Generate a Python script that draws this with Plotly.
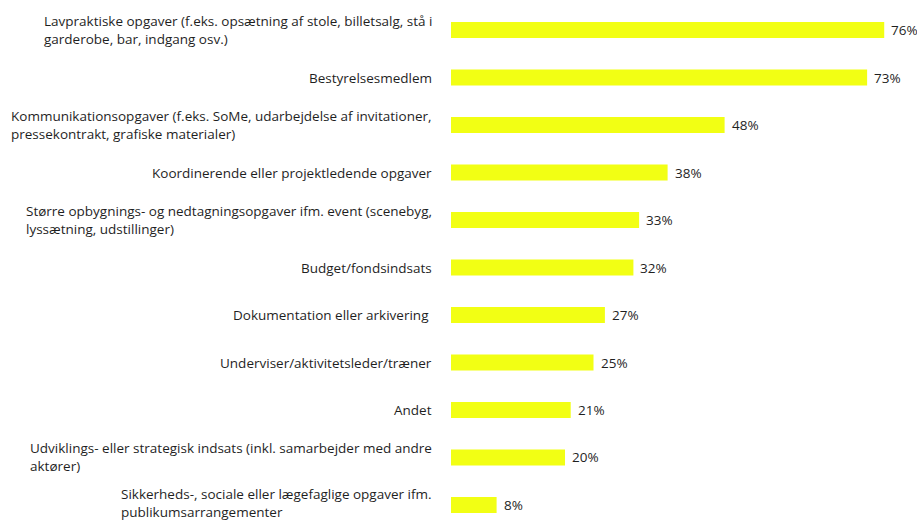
import plotly.graph_objects as go

# Task categories (top to bottom) and share of respondents in percent
categories = [
    "Lavpraktiske opgaver (f.eks. opsætning af stole, billetsalg, stå i<br>garderobe, bar, indgang osv.)",
    "Bestyrelsesmedlem",
    "Kommunikationsopgaver (f.eks. SoMe, udarbejdelse af invitationer,<br>pressekontrakt, grafiske materialer)",
    "Koordinerende eller projektledende opgaver",
    "Større opbygnings- og nedtagningsopgaver ifm. event (scenebyg,<br>lyssætning, udstillinger)",
    "Budget/fondsindsats",
    "Dokumentation eller arkivering ",
    "Underviser/aktivitetsleder/træner",
    "Andet",
    "Udviklings- eller strategisk indsats (inkl. samarbejder med andre<br>aktører)",
    "Sikkerheds-, sociale eller lægefaglige opgaver ifm.<br>publikumsarrangementer",
]
values = [76, 73, 48, 38, 33, 32, 27, 25, 21, 20, 8]
value_labels = [f"{v}%" for v in values]

FONT = "Open Sans"
TEXT_COLOR = "#1f1f1f"
BAR_COLOR = "#F2FF14"

positions = list(range(len(categories)))

fig = go.Figure(
    go.Bar(
        x=values,
        y=positions,
        orientation="h",
        marker=dict(color=BAR_COLOR, line=dict(width=0)),
        width=0.34,
        hoverinfo="skip",
    )
)

annotations = []
last = positions[-1]
for pos, cat, val, lab in zip(positions, categories, values, value_labels):
    # category label, left-aligned block placed to the left of the bars
    annotations.append(dict(
        x=0, xref="paper", y=pos, yref="y",
        text=cat, showarrow=False,
        xanchor="right", yanchor="middle", align="left",
        xshift=-17, yshift=2 if pos == last else 0,
        font=dict(family=FONT, size=13.5, color=TEXT_COLOR),
    ))
    # value label at the end of each bar
    annotations.append(dict(
        x=val, xref="x", y=pos, yref="y",
        text=lab, showarrow=False,
        xanchor="left", yanchor="middle",
        xshift=5,
        font=dict(family=FONT, size=13.5, color=TEXT_COLOR),
    ))

fig.update_layout(
    width=917, height=520,
    margin=dict(l=451, r=0, t=0, b=0),
    paper_bgcolor="white", plot_bgcolor="white",
    showlegend=False,
    annotations=annotations,
    xaxis=dict(range=[0, 81.75], visible=False, fixedrange=True),
    yaxis=dict(range=[10.316, -0.632], visible=False, fixedrange=True),
)

fig.write_html("out.html")
